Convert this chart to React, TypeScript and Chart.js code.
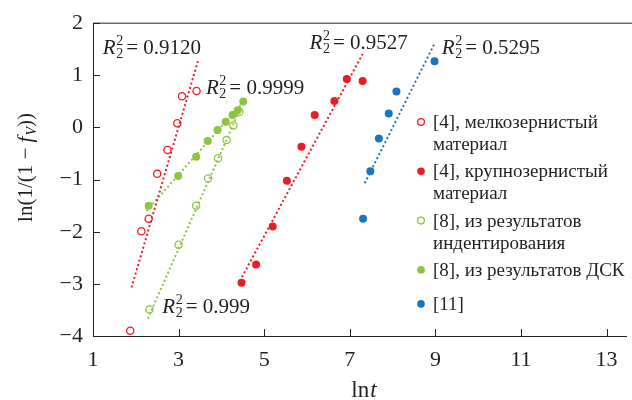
import React, { useEffect, useRef } from "react";
import { Chart, registerables } from "chart.js";
Chart.register(...registerables);

// ---- data ----
const fineX = [1.87, 2.13, 2.30, 2.50, 2.74, 2.97, 3.08, 3.42];
const fineY = [-3.90, -1.99, -1.75, -0.89, -0.43, 0.08, 0.60, 0.70];
const coarseX = [4.47, 4.81, 5.20, 5.53, 5.87, 6.18, 6.64, 6.93, 7.30];
const coarseY = [-2.98, -2.63, -1.90, -1.02, -0.37, 0.24, 0.51, 0.93, 0.89];
const indentX = [2.32, 3.00, 3.41, 3.69, 3.92, 4.12, 4.28, 4.42];
const indentY = [-3.49, -2.25, -1.50, -0.98, -0.59, -0.24, 0.04, 0.30];
const dscX = [2.30, 2.99, 3.41, 3.68, 3.91, 4.10, 4.26, 4.38, 4.51];
const dscY = [-1.50, -0.93, -0.56, -0.26, -0.05, 0.11, 0.24, 0.33, 0.50];
const ref11X = [7.31, 7.48, 7.68, 7.91, 8.09, 8.98];
const ref11Y = [-1.75, -0.84, -0.21, 0.27, 0.69, 1.27];

// trend line end points
const fineFitX = [1.90, 3.45];
const fineFitY = [-3.07, 1.27];
const coarseFitX = [4.48, 7.30];
const coarseFitY = [-2.87, 1.41];
const indentFitX = [2.28, 4.45];
const indentFitY = [-3.67, 0.38];
const dscFitX = [2.25, 4.52];
const dscFitY = [-1.60, 0.50];
const ref11FitX = [7.35, 8.98];
const ref11FitY = [-1.07, 1.61];

// R² annotations
const r2Values = ["0.9120", "0.9999", "0.999", "0.9527", "0.5295"];
const r2X = [1.23, 3.64, 2.62, 6.06, 9.15];
const r2Y = [1.41, 0.64, -3.56, 1.50, 1.41];

// axes
const xTicks = [1, 3, 5, 7, 9, 11, 13];
const yTicks = [-4, -3, -2, -1, 0, 1, 2];

// legend
const legendLabels = [
  ["[4], мелкозернистый", "материал"],
  ["[4], крупнозернистый", "материал"],
  ["[8], из результатов", "индентирования"],
  ["[8], из результатов ДСК"],
  ["[11]"],
];

const RED = "#ED1C24";
const GREEN = "#8CC63F";
const BLUE = "#1B75BC";
const TEXT = "#231F20";
const SERIF = '"Liberation Serif", "Times New Roman", serif';

const zip = (xs: number[], ys: number[]) => xs.map((x, i) => ({ x, y: ys[i] }));

const legendColors = [RED, RED, GREEN, GREEN, BLUE];
const legendFilled = [false, true, false, true, true];

function drawR2(ctx: CanvasRenderingContext2D, x: number, y: number, val: string) {
  ctx.fillStyle = TEXT;
  ctx.textAlign = "left";
  ctx.textBaseline = "alphabetic";
  ctx.font = `italic 21px ${SERIF}`;
  ctx.fillText("R", x, y);
  let cx = x + ctx.measureText("R").width + 0.5;
  ctx.font = `14px ${SERIF}`;
  ctx.fillText("2", cx, y + 4);
  ctx.fillText("2", cx, y - 9);
  cx += ctx.measureText("2").width + 3;
  ctx.font = `21px ${SERIF}`;
  ctx.fillText("= " + val, cx, y);
}

const decor = {
  id: "decor",
  afterDraw(chart: any) {
    const ctx: CanvasRenderingContext2D = chart.ctx;
    const { left, top, bottom } = chart.chartArea;
    const xs = chart.scales.x;
    const ys = chart.scales.y;
    ctx.save();
    // top frame line
    ctx.strokeStyle = "#6D6E71";
    ctx.lineWidth = 1.5;
    ctx.beginPath();
    ctx.moveTo(left, top);
    ctx.lineTo(chart.width, top);
    ctx.stroke();
    // inward ticks
    ctx.strokeStyle = TEXT;
    ctx.lineWidth = 1;
    ctx.beginPath();
    yTicks.forEach((v) => {
      const p = Math.round(ys.getPixelForValue(v)) + 0.5;
      ctx.moveTo(left, p);
      ctx.lineTo(left + 7, p);
    });
    xTicks.forEach((v) => {
      const p = Math.round(xs.getPixelForValue(v)) + 0.5;
      ctx.moveTo(p, bottom);
      ctx.lineTo(p, bottom - 7);
    });
    ctx.stroke();

    // R² labels
    r2Values.forEach((v, i) => {
      drawR2(ctx, xs.getPixelForValue(r2X[i]), ys.getPixelForValue(r2Y[i]), v);
    });

    // legend
    const lx = 421;
    const tx = 433;
    let ly = 122;
    ctx.font = `19px ${SERIF}`;
    ctx.textBaseline = "middle";
    ctx.textAlign = "left";
    legendLabels.forEach((lines, i) => {
      ctx.beginPath();
      if (legendFilled[i]) {
        ctx.fillStyle = legendColors[i];
        ctx.arc(lx, ly, 3.8, 0, Math.PI * 2);
        ctx.fill();
      } else {
        ctx.strokeStyle = legendColors[i];
        ctx.lineWidth = 1.3;
        ctx.arc(lx, ly, 3.4, 0, Math.PI * 2);
        ctx.stroke();
      }
      ctx.fillStyle = TEXT;
      lines.forEach((t, j) => {
        ctx.fillText(t, tx, ly + 1 + j * 22);
      });
      ly += lines.length === 2 ? 49.3 : 34;
    });

    // x title
    ctx.fillStyle = TEXT;
    ctx.textBaseline = "alphabetic";
    ctx.font = `23px ${SERIF}`;
    const lnW = ctx.measureText("ln").width;
    ctx.font = `italic 23px ${SERIF}`;
    const tW = ctx.measureText("t").width;
    const xc = 364;
    const x0 = xc - (lnW + tW + 1) / 2;
    ctx.font = `23px ${SERIF}`;
    ctx.fillText("ln", x0, 397);
    ctx.font = `italic 23px ${SERIF}`;
    ctx.fillText("t", x0 + lnW + 1, 397);

    // y title
    ctx.save();
    ctx.translate(32, 168);
    ctx.rotate(-Math.PI / 2);
    const parts: [string, string, number][] = [
      ["ln(1/(1 − ", `21px ${SERIF}`, 0],
      ["f", `italic 21px ${SERIF}`, 0],
      ["V", `italic 14px ${SERIF}`, 4],
      ["))", `21px ${SERIF}`, 0],
    ];
    let total = 0;
    parts.forEach(([t, f]) => {
      ctx.font = f;
      total += ctx.measureText(t).width;
    });
    let px = -total / 2;
    parts.forEach(([t, f, dy]) => {
      ctx.font = f;
      ctx.fillText(t, px, dy);
      px += ctx.measureText(t).width + (t === "f" ? 1 : 0);
    });
    ctx.restore();

    ctx.restore();
  },
};

export default function App() {
  const ref = useRef<HTMLCanvasElement>(null);
  useEffect(() => {
    document.body.style.margin = "0";
    const pt = (color: string, filled: boolean, xs: number[], ys: number[], label: string) => ({
      label,
      data: zip(xs, ys),
      showLine: false,
      pointRadius: filled ? 4 : 3.6,
      pointBorderWidth: filled ? 0 : 1.3,
      pointBackgroundColor: filled ? color : "transparent",
      pointBorderColor: color,
      order: 1,
    });
    const fit = (color: string, xs: number[], ys: number[], label: string) => ({
      label,
      data: zip(xs, ys),
      showLine: true,
      pointRadius: 0,
      borderColor: color,
      borderWidth: 2,
      borderDash: [2, 2.5],
      fill: false,
      order: 2,
    });
    const chart = new Chart(ref.current!, {
      type: "scatter",
      data: {
        datasets: [
          fit(RED, fineFitX, fineFitY, "fit1"),
          fit(RED, coarseFitX, coarseFitY, "fit2"),
          fit(GREEN, indentFitX, indentFitY, "fit3"),
          fit(GREEN, dscFitX, dscFitY, "fit4"),
          fit(BLUE, ref11FitX, ref11FitY, "fit5"),
          pt(RED, false, fineX, fineY, legendLabels[0].join(" ")),
          pt(RED, true, coarseX, coarseY, legendLabels[1].join(" ")),
          pt(GREEN, false, indentX, indentY, legendLabels[2].join(" ")),
          pt(GREEN, true, dscX, dscY, legendLabels[3].join(" ")),
          pt(BLUE, true, ref11X, ref11Y, legendLabels[4].join(" ")),
        ] as any,
      },
      options: {
        animation: false,
        responsive: false,
        maintainAspectRatio: false,
        layout: { padding: { top: 22, right: 0, left: 0, bottom: 0 } },
        plugins: { legend: { display: false }, tooltip: { enabled: false } },
        scales: {
          x: {
            type: "linear",
            min: 1,
            max: 13.47,
            afterBuildTicks: (s: any) => {
              s.ticks = xTicks.map((v) => ({ value: v }));
            },
            afterFit: (s: any) => {
              s.height = 64;
            },
            grid: { display: false, drawTicks: false },
            border: { display: true, color: TEXT, width: 1 },
            ticks: {
              padding: 11,
              color: TEXT,
              font: { family: SERIF, size: 22 },
              maxRotation: 0,
              autoSkip: false,
            },
          },
          y: {
            type: "linear",
            min: -4,
            max: 2,
            afterBuildTicks: (s: any) => {
              s.ticks = yTicks.map((v) => ({ value: v }));
            },
            afterFit: (s: any) => {
              s.width = 93;
            },
            grid: { display: false, drawTicks: false },
            border: { display: true, color: TEXT, width: 1 },
            ticks: {
              padding: 10,
              color: TEXT,
              font: { family: SERIF, size: 22 },
              callback: (v: any) => (Number(v) < 0 ? "−" + Math.abs(Number(v)) : String(v)),
            },
          },
        },
      } as any,
      plugins: [decor],
    });
    return () => chart.destroy();
  }, []);
  return (
    <div style={{ width: 632, height: 400, background: "#fff" }}>
      <canvas ref={ref} width={632} height={400} style={{ display: "block" }} />
    </div>
  );
}
